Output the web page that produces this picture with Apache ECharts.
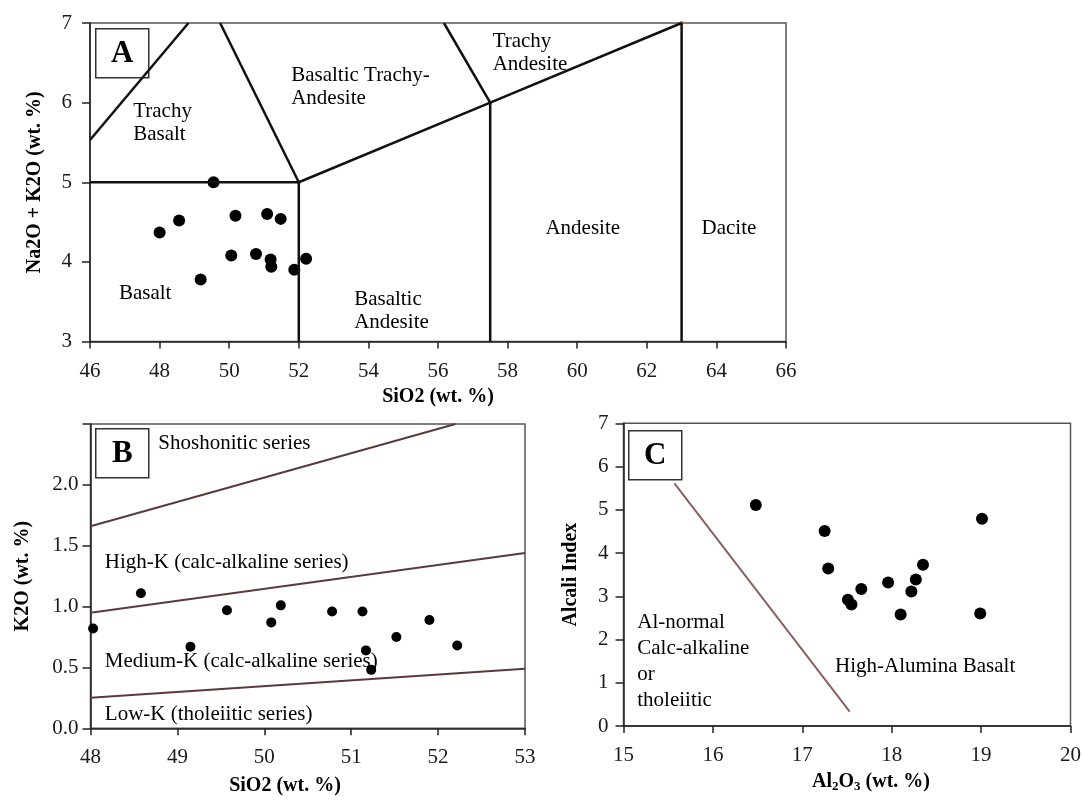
<!DOCTYPE html>
<html>
<head>
<meta charset="utf-8">
<title>TAS, K2O-SiO2 and Alkali index diagrams</title>
<script src="https://cdn.jsdelivr.net/npm/echarts@6/dist/echarts.min.js"></script>
<style>
    html, body { margin: 0; padding: 0; background: #fff; }
    #main { width: 1084px; height: 801px; }
</style>
</head>
<body>
<div id="main"></div>
<script>
    // ---- A : TAS (SiO2 vs Na2O + K2O) ----
    var tasSamples = [
        [49.55, 5.00], [48.56, 4.52], [48.00, 4.37], [50.18, 4.58], [51.09, 4.60],
        [51.48, 4.54], [50.06, 4.08], [50.77, 4.10], [51.19, 4.03], [51.21, 3.94],
        [51.87, 3.90], [52.21, 4.04], [49.18, 3.78]
    ];
    var tasTrachyBasaltLeft = [[46, 5.53], [48.83, 7]];
    var tasTrachyBasaltRight = [[52, 5], [49.74, 7]];
    var tasBasaltTop = [[46, 5], [52, 5]];
    var tasBasaltRight = [[52, 3], [52, 5]];
    var tasTrachyAndesiteBase = [[52, 5], [57.5, 6], [63, 7]];
    var tasTrachyAndesiteLeft = [[57.5, 6], [56.17, 7]];
    var tasAndesiteLeft = [[57.5, 3], [57.5, 6]];
    var tasDaciteLeft = [[63, 3], [63, 7]];
    var tasJunctions = [[52, 5], [57.5, 6], [63, 7]];
    var tasFields = [
        [47.24, 5.74, 'Trachy\nBasalt'],
        [51.78, 6.20, 'Basaltic Trachy-\nAndesite'],
        [46.83, 3.60, 'Basalt'],
        [53.59, 3.38, 'Basaltic\nAndesite'],
        [57.57, 6.62, 'Trachy\nAndesite'],
        [60.16, 4.42, 'Andesite', 'center'],
        [64.36, 4.42, 'Dacite', 'center']
    ];

    // ---- B : K2O vs SiO2 ----
    var kSamples = [
        [48.03, 0.82], [48.58, 1.11], [49.15, 0.67], [49.57, 0.97], [50.08, 0.87],
        [50.19, 1.01], [50.78, 0.96], [51.13, 0.96], [51.17, 0.64], [51.23, 0.48],
        [51.52, 0.75], [51.90, 0.89], [52.22, 0.68]
    ];
    var kShoshoniticLine = [[48, 1.66], [52.2, 2.5]];
    var kHighLine = [[48, 0.95], [53, 1.44]];
    var kLowLine = [[48, 0.25], [53, 0.49]];
    var kFields = [
        [48.78, 2.34, 'Shoshonitic series'],
        [48.165, 1.36, 'High-K (calc-alkaline series)'],
        [48.165, 0.55, 'Medium-K (calc-alkaline series)'],
        [48.165, 0.11, 'Low-K (tholeiitic series)']
    ];

    // ---- C : Alkali index vs Al2O3 ----
    var alSamples = [
        [16.48, 5.11], [17.25, 4.51], [17.29, 3.64], [17.51, 2.92], [17.55, 2.81],
        [17.66, 3.17], [17.96, 3.32], [18.10, 2.58], [18.22, 3.11], [18.27, 3.39],
        [18.35, 3.73], [19.01, 4.79], [18.99, 2.60]
    ];
    var alDivide = [[15.57, 5.61], [17.53, 0.33]];
    var alFields = [
        [15.154, 1.50, 'Al-normal\nCalc-alkaline\nor\ntholeiitic'],
        [17.366, 1.38, 'High-Alumina Basalt']
    ];

    var serif = "'Liberation Serif', 'Times New Roman', serif";

    function boundary(data, idx, color, width) {
        return {
            type: 'line', xAxisIndex: idx, yAxisIndex: idx, data: data,
            showSymbol: false, silent: true,
            lineStyle: { color: color, width: width }
        };
    }

    function dots(data, idx, size) {
        return {
            type: 'scatter', xAxisIndex: idx, yAxisIndex: idx, data: data,
            symbolSize: size, itemStyle: { color: '#000', opacity: 1 }
        };
    }

    function fieldLabels(list, idx, lh) {
        return {
            type: 'scatter', xAxisIndex: idx, yAxisIndex: idx, symbolSize: 0, silent: true,
            itemStyle: { opacity: 1 },
            data: list.map(function (f) {
                return {
                    value: [f[0], f[1]], name: f[2],
                    label: { align: f[3] || 'left' }
                };
            }),
            label: {
                show: true, formatter: '{b}', position: [0, 0],
                verticalAlign: 'middle', fontFamily: serif, fontSize: 21,
                lineHeight: lh, color: '#000'
            }
        };
    }

    function xAx(idx, min, max, step, name, gap, fmt) {
        return {
            type: 'value', gridIndex: idx, min: min, max: max, interval: step,
            name: name, nameLocation: 'middle', nameGap: gap,
            nameTextStyle: { fontFamily: serif, fontSize: 20, fontWeight: 'bold', color: '#000' },
            axisLine: { lineStyle: { color: '#222', width: 1.5 } },
            axisTick: { show: true, inside: false, length: 7, lineStyle: { color: '#222', width: 1.5 } },
            axisLabel: { fontFamily: serif, fontSize: 21, color: '#1a1a1a', margin: 19, formatter: fmt },
            splitLine: { show: false }
        };
    }

    function yAx(idx, min, max, step, name, gap, margin, fmt) {
        return {
            type: 'value', gridIndex: idx, min: min, max: max, interval: step,
            name: name, nameLocation: 'middle', nameGap: gap,
            nameTextStyle: { fontFamily: serif, fontSize: 20, fontWeight: 'bold', color: '#000' },
            axisLine: { lineStyle: { color: '#222', width: 1.5 } },
            axisTick: { show: true, inside: false, length: 8, lineStyle: { color: '#222', width: 1.5 } },
            axisLabel: { fontFamily: serif, fontSize: 21, color: '#1a1a1a', margin: margin, formatter: fmt },
            splitLine: { show: false }
        };
    }

    function letterBox(x, y, letter) {
        return {
            type: 'group', left: x, top: y,
            children: [
                { type: 'rect', shape: { x: 0, y: 0, width: 53, height: 49 },
                  style: { fill: '#fff', stroke: '#333', lineWidth: 1.5 } },
                { type: 'text', x: 26.5, y: 25,
                  style: { text: letter, fontFamily: serif, fontSize: 31, fontWeight: 'bold',
                           fill: '#000', align: 'center', verticalAlign: 'middle' } }
            ]
        };
    }

    var chart = echarts.init(document.getElementById('main'));
    chart.setOption({
        animation: false,
        backgroundColor: '#fff',
        grid: [
            { left: 90, top: 23, width: 696, height: 318.5, show: true, borderColor: '#555', borderWidth: 1.5 },
            { left: 90.5, top: 424, width: 434.5, height: 304.3, show: true, borderColor: '#555', borderWidth: 1.5 },
            { left: 623.5, top: 423.3, width: 449, height: 302.7, show: true, borderColor: '#555', borderWidth: 1.5 }
        ],
        xAxis: [
            xAx(0, 46, 66, 2, 'SiO2 (wt. %)', 45),
            xAx(1, 48, 53, 1, '', 40),
            xAx(2, 15, 20, 1, '', 40)
        ],
        yAxis: [
            yAx(0, 3, 7, 1, 'Na2O + K2O (wt. %)', 45, 18),
            yAx(1, 0, 2.5, 0.5, 'K2O (wt. %)', 58, 12, function (v) { return v >= 2.5 ? '' : v.toFixed(1); }),
            yAx(2, 0, 7, 1, 'Alcali Index', 43, 15)
        ],
        graphic: [
            letterBox(95, 28, 'A'),
            letterBox(95, 428, 'B'),
            letterBox(628, 430, 'C'),
            { type: 'text', x: 285, y: 786,
              style: { text: 'SiO2 (wt. %)', fontFamily: serif, fontSize: 20, fontWeight: 'bold',
                       fill: '#000', align: 'center', verticalAlign: 'middle' } },
            { type: 'text', x: 871, y: 782,
              style: {
                  text: '{n|Al}{s|2}{n|O}{s|3}{n| (wt. %)}', align: 'center', verticalAlign: 'middle',
                  rich: {
                      n: { fontFamily: serif, fontSize: 20, fontWeight: 'bold', fill: '#000' },
                      s: { fontFamily: serif, fontSize: 13, fontWeight: 'bold', fill: '#000', padding: [10, 0, 0, 0] }
                  }
              } }
        ],
        series: [
            boundary(tasTrachyBasaltLeft, 0, '#111', 2.5),
            boundary(tasTrachyBasaltRight, 0, '#111', 2.5),
            boundary(tasBasaltTop, 0, '#111', 2.5),
            boundary(tasBasaltRight, 0, '#111', 2.5),
            boundary(tasTrachyAndesiteBase, 0, '#111', 2.5),
            boundary(tasTrachyAndesiteLeft, 0, '#111', 2.5),
            boundary(tasAndesiteLeft, 0, '#111', 2.5),
            boundary(tasDaciteLeft, 0, '#111', 2.5),
            { type: 'scatter', xAxisIndex: 0, yAxisIndex: 0, data: tasJunctions, symbolSize: 4,
              silent: true, itemStyle: { color: '#b5703a', opacity: 1 } },
            dots(tasSamples, 0, 12),
            fieldLabels(tasFields, 0, 23),

            boundary(kShoshoniticLine, 1, '#5a3a3a', 2),
            boundary(kHighLine, 1, '#5a3a3a', 2),
            boundary(kLowLine, 1, '#5a3a3a', 2),
            dots(kSamples, 1, 10),
            fieldLabels(kFields, 1, 23),

            boundary(alDivide, 2, '#876262', 2),
            dots(alSamples, 2, 12),
            fieldLabels(alFields, 2, 26)
        ]
    });
</script>
</body>
</html>
